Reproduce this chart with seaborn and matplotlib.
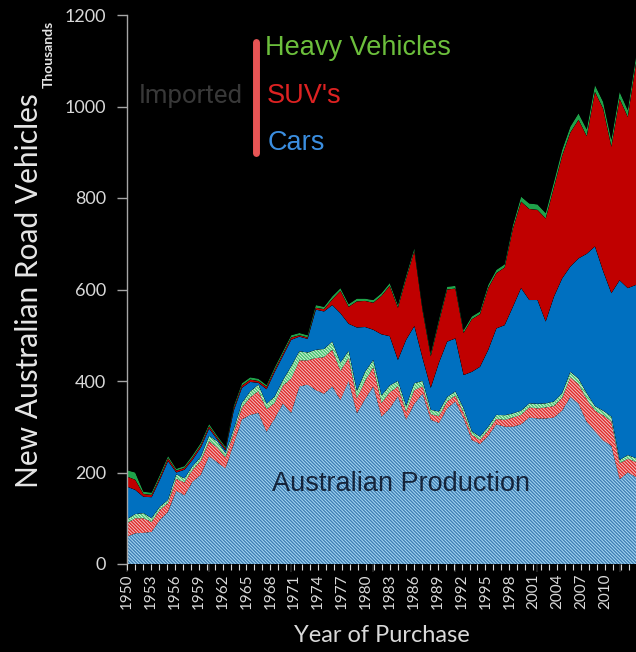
import matplotlib
matplotlib.use("Agg")
import matplotlib.pyplot as plt
from matplotlib.lines import Line2D
import pandas as pd
import seaborn as sns
import seaborn.objects as so

years = list(range(1950, 2013))

aus_cars = [60, 67, 68, 70, 96, 114, 160, 150, 180, 195,
            235, 222, 209, 262, 316, 326, 330, 289, 318, 351,
            330, 388, 392, 380, 372, 388, 358, 400, 329, 360,
            388, 322, 340, 366, 315, 350, 372, 315, 308, 340,
            355, 318, 271, 262, 280, 305, 300, 300, 305, 320,
            318, 318, 320, 335, 365, 350, 310, 290, 270, 258,
            185, 200, 190]
aus_suv = [29, 33, 32, 22, 22, 19, 26, 28, 26, 31,
           33, 33, 24, 24, 26, 38, 48, 49, 34, 39,
           75, 57, 53, 70, 80, 80, 64, 50, 33, 40,
           42, 30, 35, 22, 18, 30, 16, 12, 15, 15,
           13, 12, 11, 9, 12, 12, 15, 20, 21, 22,
           22, 24, 25, 28, 43, 43, 50, 45, 55, 54,
           35, 30, 33]
aus_heavy = [9, 9, 11, 8, 7, 7, 10, 9, 8, 8,
             12, 13, 9, 8, 10, 13, 14, 12, 14, 12,
             27, 20, 17, 18, 18, 18, 18, 16, 16, 20,
             16, 16, 15, 12, 12, 15, 12, 10, 10, 10,
             9, 10, 8, 7, 8, 9, 10, 9, 9, 9,
             10, 9, 10, 10, 12, 12, 13, 10, 10, 10,
             7, 8, 8]
imp_cars = [71, 53, 36, 46, 59, 85, 4, 19, 14, 21,
            16, 4, 6, 41, 33, 21, 4, 32, 54, 53,
            58, 32, 30, 88, 82, 80, 108, 59, 139, 98,
            66, 134, 108, 46, 145, 125, 50, 48, 107, 121,
            116, 73, 130, 153, 168, 189, 197, 233, 268, 226,
            227, 179, 229, 251, 230, 263, 305, 349, 305, 270,
            393, 365, 379]
imp_suv = [22, 22, 6, 5, 5, 6, 4, 4, 5, 5,
           5, 4, 4, 5, 5, 5, 4, 5, 5, 5,
           5, 3, 3, 4, 5, 12, 49, 37, 57, 57,
           59, 84, 110, 114, 134, 164, 104, 69, 89, 114,
           109, 92, 115, 115, 135, 121, 126, 170, 189, 199,
           197, 225, 239, 268, 293, 303, 257, 338, 355, 320,
           397, 374, 485]
imp_heavy = [14, 16, 5, 5, 6, 5, 4, 4, 5, 5,
             5, 4, 4, 5, 5, 5, 5, 4, 5, 5,
             5, 5, 5, 6, 5, 7, 6, 6, 6, 5,
             6, 6, 6, 6, 6, 6, 6, 6, 6, 6,
             6, 6, 6, 6, 7, 7, 7, 8, 11, 12,
             12, 12, 12, 13, 13, 14, 15, 15, 15, 15,
             15, 15, 14]

layer_names = ["Australian Cars", "Australian SUV's", "Australian Heavy Vehicles",
               "Imported Cars", "Imported SUV's", "Imported Heavy Vehicles"]
layer_values = [aus_cars, aus_suv, aus_heavy, imp_cars, imp_suv, imp_heavy]
face_colors = ["#aadcf7", "#f8c4c4", "#d8f6e0", "#0070c0", "#c00000", "#1fa24a"]
hatch_colors = ["#3f7fb4", "#dc2a2a", "#44c06c", None, None, None]

# the printed year scale of the reference axis (labels every 3 years)
x_tick_years = list(range(1950, 2011, 3))
label_scale_years = list(range(1950, 2014))
label_scale_end = 2013.9

rows = []
for name, vals in zip(layer_names, layer_values):
    for yr, v in zip(years, vals):
        rows.append({"year": yr, "layer": name, "value": v})
df = pd.DataFrame(rows)
df = df.sort_values(["year"], kind="stable").reset_index(drop=True)

sns.set_theme(style="dark")
plt.rcParams["hatch.linewidth"] = 1.0
plt.rcParams["font.family"] = ["Lato", "DejaVu Sans"]

fig = plt.figure(figsize=(6.36, 6.52), dpi=100, facecolor="black")
ax = fig.add_axes([127 / 636, (652 - 564) / 652, 509 / 636, 549 / 652])

palette = dict(zip(layer_names, face_colors))
(
    so.Plot(df, x="year", y="value", color="layer")
    .add(so.Area(alpha=1, edgewidth=0), so.Stack(), legend=False)
    .scale(color=so.Nominal(palette, order=layer_names))
    .on(ax)
    .plot()
)

face_to_hatch = {}
for fc, hc in zip(face_colors, hatch_colors):
    face_to_hatch[tuple(round(c, 3) for c in matplotlib.colors.to_rgb(fc))] = hc
for patch in ax.patches:
    key = tuple(round(c, 3) for c in patch.get_facecolor()[:3])
    hc = face_to_hatch.get(key)
    if hc is not None:
        patch.set_hatch("\\" * 10)
        patch.set_edgecolor(hc)
        patch.set_linewidth(0)
    else:
        patch.set_edgecolor("none")

ax.set_facecolor("black")
ax.set_xlim(years[0], years[-1])
ax.set_ylim(0, 1200)
ax.set_yticks(range(0, 1201, 200))
ax.grid(False)
ax.tick_params(axis="x", which="both", bottom=False, labelbottom=False)
for s in ["top", "right", "bottom"]:
    ax.spines[s].set_visible(False)
ax.spines["left"].set_color("#a6a6a6")
ax.spines["left"].set_linewidth(1.0)
ax.tick_params(axis="y", colors="#a6a6a6", labelcolor="#d9d9d9", labelsize=13,
               direction="out", length=7, width=1, left=True, pad=8)
ax.set_xlabel("")
ax.set_ylabel("")

# year label scale along the bottom
axl = ax.twiny()
axl.set_xlim(1950, label_scale_end)
axl.xaxis.set_ticks_position("bottom")
axl.xaxis.set_label_position("bottom")
for s in ["top", "right", "left", "bottom"]:
    axl.spines[s].set_visible(False)
axl.set_xticks(x_tick_years)
axl.set_xticks(label_scale_years, minor=True)
axl.set_xticklabels([str(y) for y in x_tick_years], rotation=90)
axl.tick_params(axis="x", which="both", colors="#d9d9d9", labelcolor="#d9d9d9",
                direction="out", length=4, width=0.8, bottom=True, top=False,
                labelbottom=True, labeltop=False, labelsize=11, pad=3)
axl.grid(False)
axl.set_xlabel("Year of Purchase", color="#d9d9d9", fontsize=17, labelpad=11)

fig.text(0.045, 0.555, "New Australian Road Vehicles", rotation=90, color="#e6e6e6",
         fontsize=21.5, ha="center", va="center")
fig.text(0.076, 0.916, "Thousands", rotation=90, color="#e6e6e6",
         fontsize=10, fontweight="bold", ha="center", va="center")

fig.text(0.382, 0.853, "Imported", color="#383838", fontsize=18.5,
         ha="right", va="center", family=["Roboto", "DejaVu Sans"])
fig.lines.append(Line2D([0.4025, 0.4025], [0.9356, 0.7653], transform=fig.transFigure,
                        color="#e85555", linewidth=5, solid_capstyle="round"))
fig.text(0.4167, 0.926, "Heavy Vehicles", color="#6cbf3c", fontsize=19.5,
         ha="left", va="center", family=["Liberation Sans", "DejaVu Sans"])
fig.text(0.4198, 0.853, "SUV's", color="#dd2222", fontsize=19.5,
         ha="left", va="center", family=["Liberation Sans", "DejaVu Sans"])
fig.text(0.4214, 0.781, "Cars", color="#3b8ee0", fontsize=19.5,
         ha="left", va="center", family=["Liberation Sans", "DejaVu Sans"])

ax.text(0.538, 0.1457, "Australian Production", transform=ax.transAxes,
        color="#15243a", fontsize=19.5, ha="center", va="center",
        family=["Liberation Sans", "DejaVu Sans"])

fig.savefig("out.png", dpi=100, facecolor="black")
